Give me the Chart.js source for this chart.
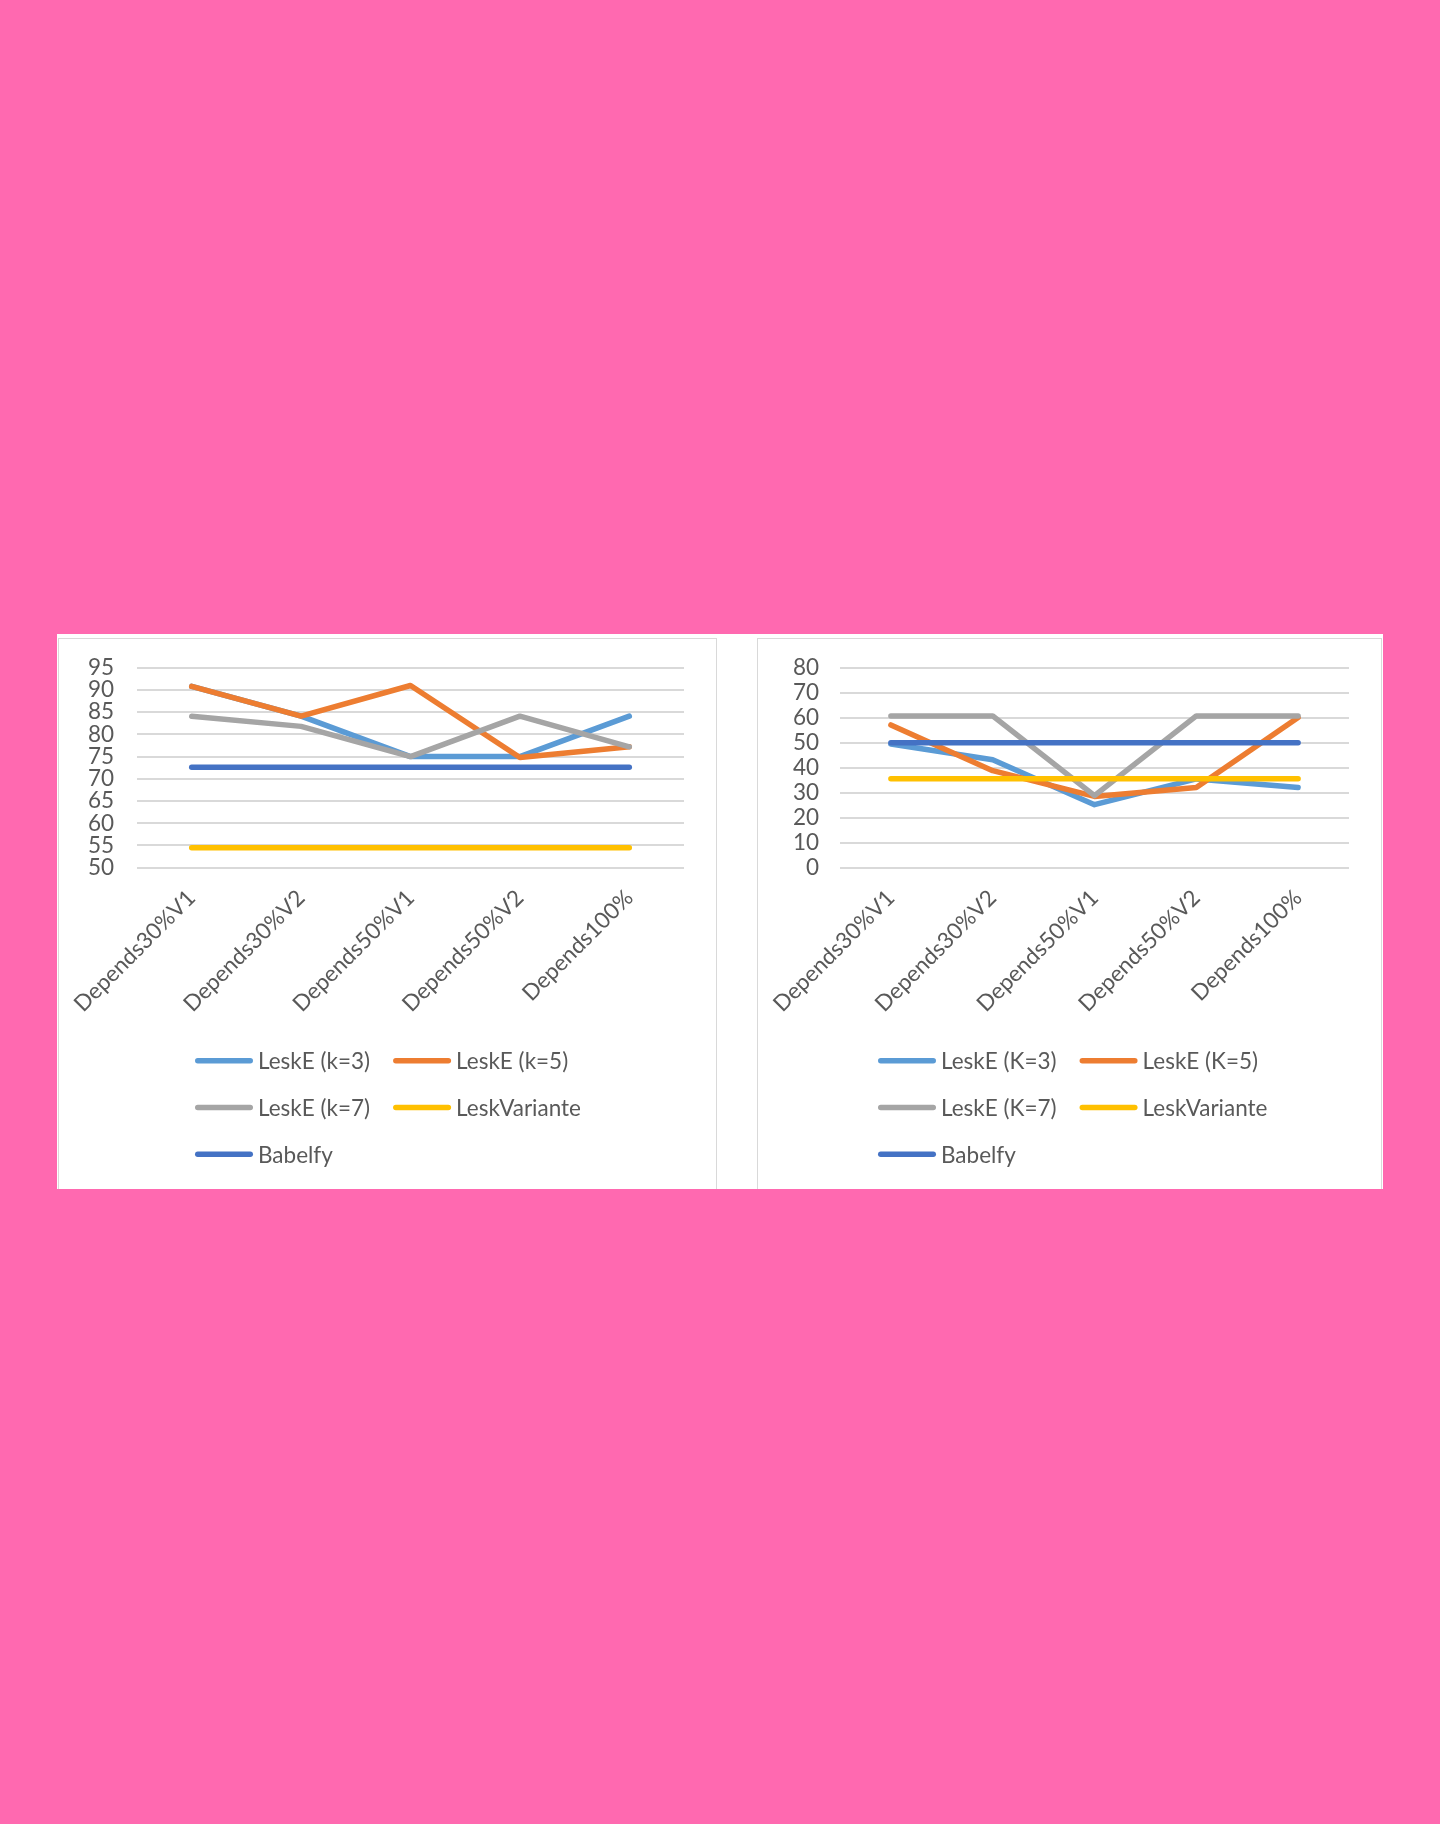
<!DOCTYPE html>
<html>
<head>
<meta charset="utf-8">
<script src="https://cdn.jsdelivr.net/npm/chart.js@4.4.1/dist/chart.umd.min.js"></script>
<style>
  html, body { margin: 0; padding: 0; }
  body { width: 1440px; height: 1824px; background: #FF69B0; position: relative; overflow: hidden; font-family: Lato, sans-serif; }
  #white { position: absolute; left: 57px; top: 634px; width: 1326px; height: 555px; background: #fff; overflow: hidden; }
  .panel { position: absolute; top: 4px; height: 600px; box-sizing: border-box; border: 1.5px solid #D9D9D9; }
  canvas { position: absolute; }
</style>
</head>
<body>
<div id="white">
  <div class="panel" style="left:0.5px; width:659px;"></div>
  <div class="panel" style="left:699.5px; width:625px;"></div>
</div>
<canvas id="c1" width="657" height="550" style="left:58px; top:639px;"></canvas>
<canvas id="c2" width="623" height="550" style="left:757px; top:639px;"></canvas>
<script>
// ---- data ----
const categories = ['Depends30%V1', 'Depends30%V2', 'Depends50%V1', 'Depends50%V2', 'Depends100%'];

const leftLabels = ['LeskE (k=3)', 'LeskE (k=5)', 'LeskE (k=7)', 'LeskVariante', 'Babelfy'];
const leftK3 = [90.8, 84.1, 75.0, 75.0, 84.1];
const leftK5 = [90.8, 84.1, 91.0, 74.8, 77.2];
const leftK7 = [84.1, 81.8, 75.0, 84.1, 77.2];
const leftVariante = [54.5, 54.5, 54.5, 54.5, 54.5];
const leftBabelfy = [72.6, 72.6, 72.6, 72.6, 72.6];
const leftTicks = [50, 55, 60, 65, 70, 75, 80, 85, 90, 95];

const rightLabels = ['LeskE (K=3)', 'LeskE (K=5)', 'LeskE (K=7)', 'LeskVariante', 'Babelfy'];
const rightK3 = [49.5, 43.2, 25.2, 35.5, 32.1];
const rightK5 = [57.1, 38.8, 28.5, 32.1, 60.1];
const rightK7 = [60.7, 60.7, 28.8, 60.7, 60.7];
const rightVariante = [35.6, 35.6, 35.6, 35.6, 35.6];
const rightBabelfy = [50.0, 50.0, 50.0, 50.0, 50.0];
const rightTicks = [0, 10, 20, 30, 40, 50, 60, 70, 80];

const seriesColors = ['#5B9BD5', '#ED7D31', '#A5A5A5', '#FFC000', '#4472C4'];

// ---- rendering ----
const FONT_SIZE = 22.5;
Chart.defaults.font.family = 'Lato, sans-serif';
Chart.defaults.font.size = FONT_SIZE;
Chart.defaults.color = '#595959';

const gridLegend = {
  id: 'gridLegend',
  afterDraw(chart, args, opts) {
    const ctx = chart.ctx;
    const ds = chart.data.datasets;
    ctx.save();
    ctx.font = FONT_SIZE + 'px Lato, sans-serif';
    ctx.textBaseline = 'middle';
    ctx.textAlign = 'left';
    let col1W = 0;
    ds.forEach((d, i) => { if (i % 2 === 0) col1W = Math.max(col1W, ctx.measureText(d.label).width); });
    const colX = [opts.x, opts.x + opts.sample + opts.textGap + col1W + opts.colGap];
    ds.forEach((d, i) => {
      const col = i % 2, row = Math.floor(i / 2);
      const x = colX[col], y = opts.y + row * opts.rowH;
      ctx.strokeStyle = d.borderColor;
      ctx.lineWidth = 5.5;
      ctx.lineCap = 'round';
      ctx.beginPath();
      ctx.moveTo(x + 2.75, y);
      ctx.lineTo(x + opts.sample - 2.75, y);
      ctx.stroke();
      ctx.fillStyle = '#595959';
      ctx.fillText(d.label, x + opts.sample + opts.textGap, y + 1);
    });
    ctx.restore();
  }
};

function makeDatasets(labels, arrays) {
  return arrays.map((arr, i) => ({
    label: labels[i],
    data: arr,
    borderColor: seriesColors[i],
    backgroundColor: seriesColors[i],
    borderWidth: 5.5,
    borderCapStyle: 'round',
    borderJoinStyle: 'round',
    pointRadius: 0,
    pointHoverRadius: 0,
    tension: 0,
    fill: false,
    order: arrays.length - 1 - i
  }));
}

function makeChart(id, labels, arrays, ticks, yWidth, yPad, legendX) {
  const minV = ticks[0], maxV = ticks[ticks.length - 1];
  const step = ticks[1] - ticks[0];
  return new Chart(document.getElementById(id), {
    type: 'line',
    data: { labels: categories, datasets: makeDatasets(labels, arrays) },
    options: {
      responsive: false,
      animation: false,
      layout: { padding: { top: 28.7, right: 31, bottom: 0, left: 0 } },
      plugins: {
        legend: { display: false },
        tooltip: { enabled: false },
        gridLegend: { x: legendX, y: 421.7, rowH: 46.8, sample: 58, textGap: 5, colGap: 23 }
      },
      scales: {
        x: {
          offset: true,
          grid: { display: false, drawTicks: false },
          border: { display: false },
          ticks: { minRotation: 45, maxRotation: 45, autoSkip: false, padding: 17, color: '#595959' },
          afterFit(scale) { scale.height = 321.3; scale.paddingLeft = 0; scale.paddingRight = 0; }
        },
        y: {
          min: minV, max: maxV,
          grid: { color: '#D9D9D9', lineWidth: 2, drawTicks: false },
          border: { display: false },
          ticks: { stepSize: step, autoSkip: false, padding: yPad, color: '#595959' },
          afterFit(scale) { scale.width = yWidth; scale.paddingTop = 0; scale.paddingBottom = 0; }
        }
      }
    },
    plugins: [gridLegend]
  });
}

makeChart('c1', leftLabels, [leftK3, leftK5, leftK7, leftVariante, leftBabelfy], leftTicks, 79, 23, 137);
makeChart('c2', rightLabels, [rightK3, rightK5, rightK7, rightVariante, rightBabelfy], rightTicks, 83, 21, 121);
</script>
</body>
</html>
